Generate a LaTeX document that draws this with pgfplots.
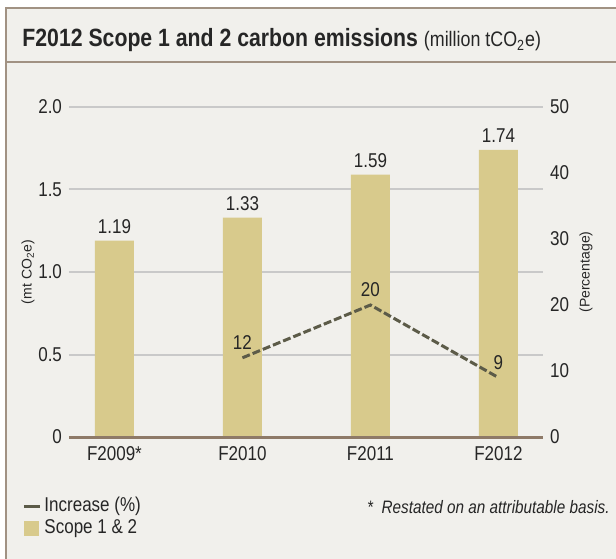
\documentclass[border=0pt]{standalone}
\usepackage{fontspec}
\setmainfont{Liberation Sans}[FakeStretch=0.85]
\newfontfamily\plainsans{Liberation Sans}
\usepackage{pgfplots}
\pgfplotsset{compat=1.18}

\definecolor{bgcol}{HTML}{F1F0EC}
\definecolor{framecol}{HTML}{A19283}
\definecolor{barcol}{HTML}{D8CA8C}
\definecolor{linecol}{HTML}{5C5B48}
\definecolor{zerocol}{HTML}{8E7A68}
\definecolor{gridcol}{HTML}{C9C9C9}
\definecolor{txtcol}{HTML}{262626}

\begin{document}
\begin{tikzpicture}
\useasboundingbox (0,0) rectangle (308pt,279pt);
\clip (0,0) rectangle (308pt,279pt);
% frame and titles, in pixels of the reference
\begin{scope}[x=0.5pt,y=0.5pt]
\fill[white] (0,0) rectangle (616,558);
\fill[bgcol] (6,-10) rectangle (630,550);
\draw[framecol, line width=1pt] (6,-10) -- (6,550) -- (630,550);
\draw[framecol, line width=1pt] (6,496) -- (630,496);
\node[anchor=base west, inner sep=0, text=txtcol] at (22,511)
  {\fontsize{12.5}{14}\selectfont\bfseries F2012 Scope 1 and 2 carbon emissions
   \mdseries\fontsize{10.5}{12}\selectfont(million tCO\textsubscript{2}e)};
\node[anchor=base east, inner sep=0, text=txtcol] at (610,45)
  {\fontsize{9}{11}\selectfont\itshape *\ \ Restated on an attributable basis.};
\end{scope}

\pgfplotsset{
  common/.style={
    at={(34.5pt,60.5pt)}, anchor=south west,
    scale only axis, width=237pt, height=165pt,
    xmin=-0.355, xmax=3.348,
    major tick length=0,
    tick label style={font=\fontsize{10}{12}\selectfont, text=txtcol},
    /pgf/number format/assume math mode=true,
  },
}

% bars, left axis
\begin{axis}[common,
  ymin=0, ymax=2,
  axis line style={draw=none},
  xtick=\empty,
  ytick={0,0.5,1,1.5,2}, yticklabels={0,0.5,1.0,1.5,2.0},
  ymajorgrids, grid style={gridcol, line width=1pt},
  ylabel={\plainsans\fontsize{7}{8}\selectfont (mt CO\textsubscript{2}e)},
  every axis y label/.style={at={(rel axis cs:0,0.5)}, xshift=-20.5pt, rotate=90, anchor=center, text=txtcol},
  ybar, bar width=19.5pt,
  nodes near coords,
  every node near coord/.append style={font=\fontsize{10}{12}\selectfont, text=txtcol},
]
\addplot[fill=barcol, draw=none] coordinates {(0,1.19) (1,1.33) (2,1.59) (3,1.74)};
\end{axis}

% line, right axis
\begin{axis}[common,
  ymin=0, ymax=50,
  axis x line*=bottom, axis y line*=right,
  x axis line style={-, draw=zerocol, line width=1.5pt},
  y axis line style={draw=none},
  xtick={0,1,2,3}, xticklabels={F2009*,F2010,F2011,F2012},
  xticklabel style={yshift=-1pt},
  ytick={0,10,20,30,40,50},
  ylabel={\plainsans\fontsize{7}{8}\selectfont (Percentage)},
  every axis y label/.style={at={(rel axis cs:1,0.5)}, xshift=21.5pt, rotate=90, anchor=center, text=txtcol},
  nodes near coords,
  every node near coord/.append style={font=\fontsize{10}{12}\selectfont, text=txtcol},
  legend style={at={(rel axis cs:-0.099,-0.17)}, anchor=north west, draw=none, fill=none,
    inner sep=0pt, font=\fontsize{10}{12}\selectfont, text=txtcol, row sep=-1.5pt,
    nodes={inner xsep=1.5pt}},
  legend cell align=left,
]
\addplot[forget plot, linecol, line width=1.5pt, dash pattern=on 4pt off 1.5pt]
  coordinates {(1,12) (2,20) (3,9)};
\addlegendimage{legend image code/.code={\draw[linecol, line width=1.5pt] (0pt,0pt) -- (8pt,0pt);}}
\addlegendentry{Increase (\%)}
\addlegendimage{legend image code/.code={\fill[barcol] (0pt,-3.5pt) rectangle (7pt,3.5pt);}}
\addlegendentry{Scope 1 \& 2}
\end{axis}
\end{tikzpicture}
\end{document}
